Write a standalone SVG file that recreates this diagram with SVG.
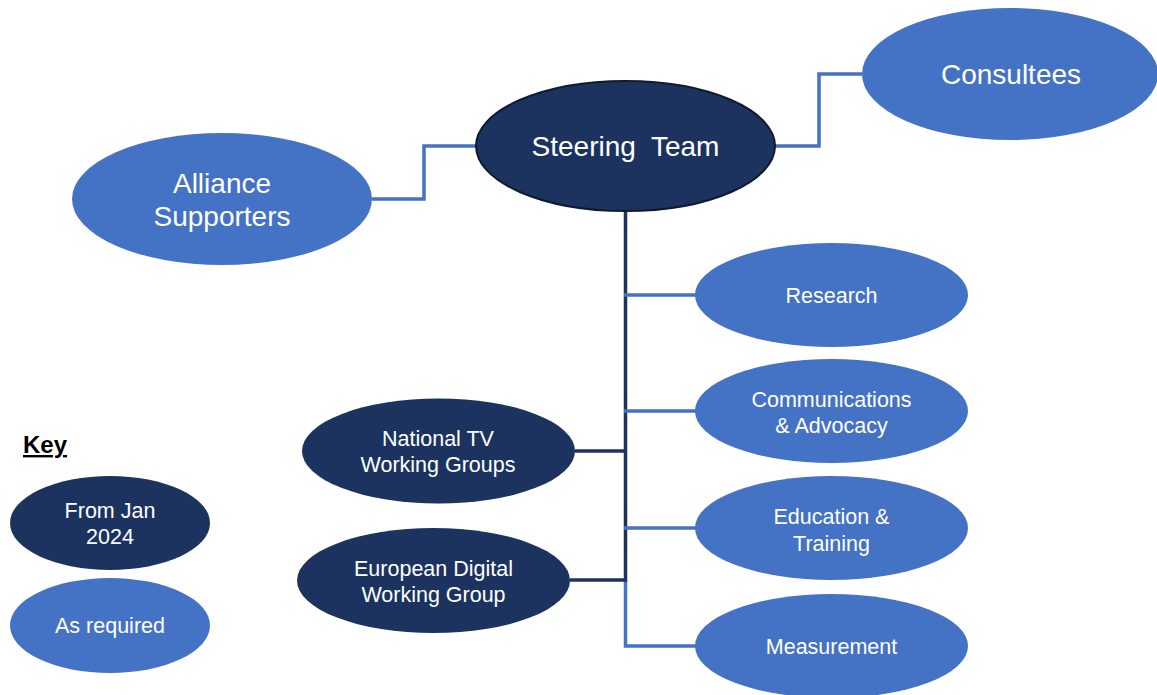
<svg xmlns="http://www.w3.org/2000/svg" width="1157" height="695" viewBox="0 0 1157 695">
  <style>
    .light { fill: #4472C4; }
    .dark { fill: #1C3360; }
    .label { fill: #FFFFFF; font-family: "Liberation Sans", Arial, sans-serif; text-anchor: middle; }
    .big { font-size: 28px; }
    .mid { font-size: 21.5px; }
    .lk { fill: none; stroke: #4472C4; stroke-width: 3.5; }
    .dk { fill: none; stroke: #1C3360; stroke-width: 3.5; }
  </style>
  <rect width="1157" height="695" fill="#FFFFFF"/>

  <!-- connectors -->
  <g id="connectors">
    <polyline class="lk" points="372,199 424,199 424,146 476,146"/>
    <polyline class="lk" points="775,146 819,146 819,74 862,74"/>
    <line class="dk" x1="625.5" y1="211" x2="625.5" y2="582"/>
    <polyline class="lk" points="625.5,580 625.5,646 696,646"/>
    <line class="dk" x1="575" y1="451" x2="627" y2="451"/>
    <line class="dk" x1="570" y1="580" x2="627" y2="580"/>
    <line class="lk" x1="624" y1="295" x2="696" y2="295"/>
    <line class="lk" x1="624" y1="411" x2="696" y2="411"/>
    <line class="lk" x1="624" y1="528" x2="696" y2="528"/>
  </g>

  <g id="steering-team">
    <ellipse class="dark" cx="625.5" cy="146" rx="149.5" ry="65" stroke="#0F1A30" stroke-width="2"/>
    <text class="label big" x="625.5" y="156" xml:space="preserve">Steering  Team</text>
  </g>

  <g id="consultees">
    <ellipse class="light" cx="1010" cy="74" rx="148" ry="66"/>
    <text class="label big" x="1011" y="84">Consultees</text>
  </g>

  <g id="alliance-supporters">
    <ellipse class="light" cx="222" cy="199" rx="150" ry="66"/>
    <text class="label big" x="222" y="193">Alliance</text>
    <text class="label big" x="222" y="226">Supporters</text>
  </g>

  <g id="research">
    <ellipse class="light" cx="831.5" cy="295" rx="136.5" ry="52"/>
    <text class="label mid" x="831.5" y="303">Research</text>
  </g>

  <g id="communications-advocacy">
    <ellipse class="light" cx="831.5" cy="411" rx="136.5" ry="52"/>
    <text class="label mid" x="831.5" y="407">Communications</text>
    <text class="label mid" x="831.5" y="433">&amp; Advocacy</text>
  </g>

  <g id="education-training">
    <ellipse class="light" cx="831.5" cy="528" rx="136.5" ry="52"/>
    <text class="label mid" x="831.5" y="524">Education &amp;</text>
    <text class="label mid" x="831.5" y="551">Training</text>
  </g>

  <g id="measurement">
    <ellipse class="light" cx="831.5" cy="646" rx="136.5" ry="52"/>
    <text class="label mid" x="831.5" y="654">Measurement</text>
  </g>

  <g id="national-tv">
    <ellipse class="dark" cx="438.5" cy="451" rx="136.5" ry="52.5"/>
    <text class="label mid" x="438" y="446">National TV</text>
    <text class="label mid" x="438" y="472">Working Groups</text>
  </g>

  <g id="european-digital">
    <ellipse class="dark" cx="433.5" cy="580.5" rx="136.5" ry="52.5"/>
    <text class="label mid" x="433.5" y="576">European Digital</text>
    <text class="label mid" x="433.5" y="602">Working Group</text>
  </g>

  <!-- key -->
  <g id="key">
    <text x="23" y="453" font-family="'Liberation Sans', Arial, sans-serif" font-size="24" font-weight="bold" fill="#000000" text-decoration="underline">Key</text>
    <ellipse class="dark" cx="110" cy="523" rx="100" ry="47"/>
    <text class="label mid" x="110" y="518">From Jan</text>
    <text class="label mid" x="110" y="544">2024</text>
    <ellipse class="light" cx="110" cy="625.5" rx="100" ry="47.5"/>
    <text class="label mid" x="110" y="633">As required</text>
  </g>
</svg>
